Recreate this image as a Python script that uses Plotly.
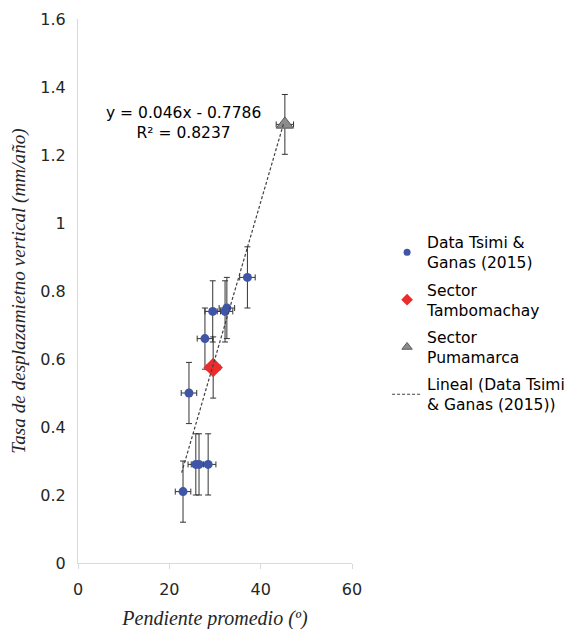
import plotly.graph_objects as go

# Data Tsimi & Ganas (2015)
tsimi_x = [23.0, 24.3, 25.8, 26.5, 28.5, 27.8, 29.5, 32.2, 32.6, 37.1]
tsimi_y = [0.21, 0.50, 0.29, 0.29, 0.29, 0.66, 0.74, 0.74, 0.75, 0.84]
tsimi_xerr = [1.7] * len(tsimi_x)
tsimi_yerr = [0.09] * len(tsimi_x)

# Sector Tambomachay
tambo_x = [29.6]
tambo_y = [0.575]
tambo_xerr = [1.5]
tambo_yerr = [0.09]

# Sector Pumamarca
puma_x = [45.3]
puma_y = [1.29]
puma_xerr = [1.9]
puma_yerr = [0.088]

# Linear trendline (from the equation shown on the chart)
slope = 0.046
intercept = -0.7786
r2 = 0.8237
trend_x = [22.7, 45.0]
trend_y = [slope * v + intercept for v in trend_x]

x_ticks = [0, 20, 40, 60]
y_ticks = [0, 0.2, 0.4, 0.6, 0.8, 1.0, 1.2, 1.4, 1.6]
y_ticklabels = ["0", "0.2", "0.4", "0.6", "0.8", "1", "1.2", "1.4", "1.6"]

names = ["Data Tsimi &<br>Ganas (2015)", "Sector<br>Tambomachay", "Sector<br>Pumamarca",
         "Lineal (Data Tsimi<br>& Ganas (2015))"]

err_col = "#333333"
tick_font = dict(family="DejaVu Sans, Verdana, sans-serif", size=16, color="#262626")
serif = "Liberation Serif, Times New Roman, serif"
text_font = dict(family="DejaVu Sans, Verdana, sans-serif", size=15.5, color="#000000")

blue_marker = dict(symbol="circle", color="#3F55A5")
red_marker = dict(symbol="diamond", color="#EE2B2B")
gray_marker = dict(symbol="triangle-up", color="#8C8C8C", line=dict(color="#595959", width=1))


def errs(xe, ye):
    return (dict(type="data", array=xe, color=err_col, thickness=1, width=3),
            dict(type="data", array=ye, color=err_col, thickness=1, width=3))


fig = go.Figure()

ex, ey = errs(tsimi_xerr, tsimi_yerr)
fig.add_trace(go.Scatter(x=tsimi_x, y=tsimi_y, mode="markers", showlegend=False,
                         marker=dict(size=9, **blue_marker), error_x=ex, error_y=ey))
ex, ey = errs(tambo_xerr, tambo_yerr)
fig.add_trace(go.Scatter(x=tambo_x, y=tambo_y, mode="markers", showlegend=False,
                         marker=dict(size=15, **red_marker), error_x=ex, error_y=ey))
ex, ey = errs(puma_xerr, puma_yerr)
fig.add_trace(go.Scatter(x=puma_x, y=puma_y, mode="markers", showlegend=False,
                         marker=dict(size=15, **gray_marker), error_x=ex, error_y=ey))
fig.add_trace(go.Scatter(x=trend_x, y=trend_y, mode="lines", showlegend=False,
                         line=dict(color="#404040", width=1.2, dash="3px,2px")))

# Legend entries (smaller legend symbols, as in the original)
fig.add_trace(go.Scatter(x=[None], y=[None], mode="markers", name=names[0], legendgroup="a",
                         marker=dict(size=7, **blue_marker)))
fig.add_trace(go.Scatter(x=[None], y=[None], mode="markers", name=names[1], legendgroup="b",
                         marker=dict(size=9, **red_marker)))
fig.add_trace(go.Scatter(x=[None], y=[None], mode="markers", name=names[2], legendgroup="c",
                         marker=dict(size=9, **gray_marker)))
fig.add_trace(go.Scatter(x=[None], y=[None], mode="lines", name=names[3], legendgroup="d",
                         line=dict(color="#404040", width=1.2, dash="3px,2px")))

fig.add_annotation(
    x=23, y=1.293, xref="x", yref="y",
    text=f"y = {slope}x - {abs(intercept)}<br>R² = {r2}",
    showarrow=False, align="center", xanchor="center", yanchor="middle",
    font=text_font,
)

fig.update_layout(
    width=577, height=629,
    margin=dict(l=70, r=233, t=11, b=74),
    paper_bgcolor="white", plot_bgcolor="white",
    showlegend=True,
    legend=dict(
        x=1.128, y=0.62, xanchor="left", yanchor="top",
        font=text_font,
        tracegroupgap=4, bgcolor="rgba(0,0,0,0)",
    ),
)
fig.update_xaxes(
    range=[0, 60], tickvals=x_ticks, showgrid=False, zeroline=False,
    showline=True, linecolor="#D9D9D9", linewidth=1,
    ticks="outside", ticklen=5, tickcolor="#D9D9D9",
    tickfont=tick_font, automargin=False, ticklabelstandoff=7,
    title=dict(text="<i>Pendiente promedio (º)</i>",
               font=dict(family=serif, size=20, color="#262626"), standoff=12),
)
fig.update_yaxes(
    range=[0, 1.6], tickvals=y_ticks, ticktext=y_ticklabels, showgrid=False, zeroline=False,
    showline=True, linecolor="#D9D9D9", linewidth=1,
    ticks="", tickfont=tick_font, automargin=False, ticklabelstandoff=8,
    title=dict(text="<i>Tasa de desplazamietno vertical (mm/año)</i>",
               font=dict(family=serif, size=19.2, color="#262626"), standoff=10),
)

fig.write_html("out.html")
